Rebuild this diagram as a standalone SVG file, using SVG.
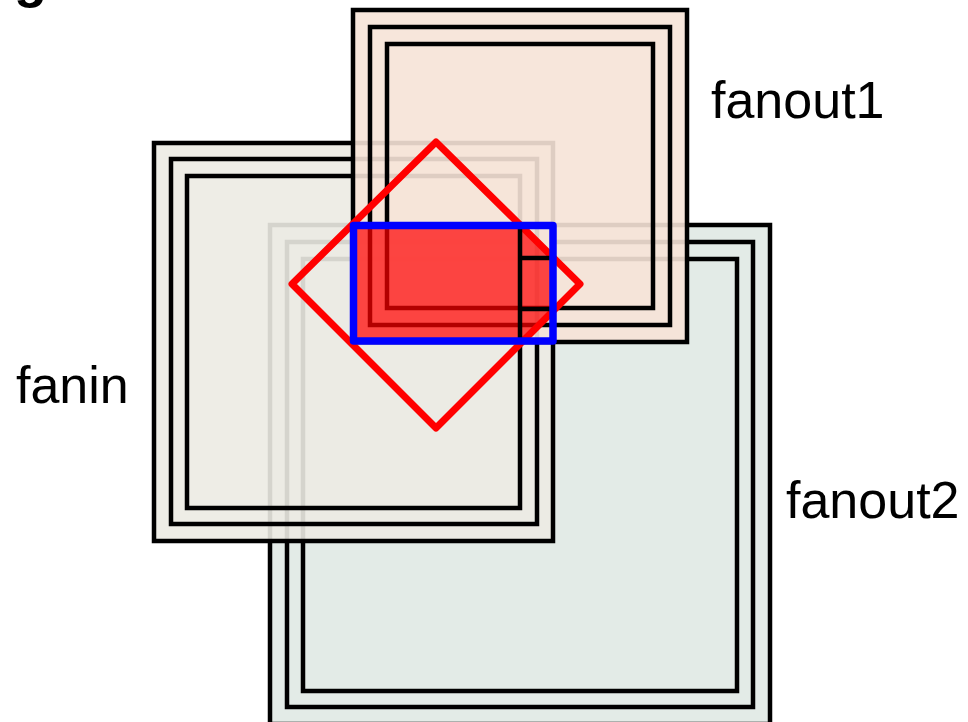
<svg xmlns="http://www.w3.org/2000/svg" width="968" height="722" viewBox="0 0 968 722">
  <style>
    .ln { fill: none; stroke: #000; stroke-width: 4.5; }
    .lbl { font-family: "Liberation Sans", Arial, sans-serif; font-size: 52px; fill: #000; }
  </style>
  <defs>
    <clipPath id="blueclip">
      <rect x="353.5" y="225.5" width="199.5" height="115.5"/>
    </clipPath>
  </defs>
  <rect width="968" height="722" fill="#fff"/>
  <text class="lbl" x="14" y="-3" style="font-weight:bold;font-size:54px">g</text>

  <g id="fanout2">
    <rect x="270" y="225" width="500" height="499" fill="#e3ebe7"/>
    <rect class="ln" x="270" y="225" width="500" height="499"/>
    <rect class="ln" x="287" y="242" width="466" height="465"/>
    <rect class="ln" x="303" y="259" width="434" height="432"/>
  </g>

  <g id="fanin">
    <rect x="154" y="143" width="399" height="398" fill="#ecebe3" fill-opacity="0.9"/>
    <rect class="ln" x="154" y="143" width="399" height="398"/>
    <rect class="ln" x="171" y="159" width="366" height="365"/>
    <rect class="ln" x="187" y="176" width="333" height="332"/>
  </g>

  <g id="fanout1">
    <rect x="353" y="10" width="334" height="332" fill="#f6e3d7" fill-opacity="0.9"/>
    <rect class="ln" x="353" y="10" width="334" height="332"/>
    <rect class="ln" x="370" y="27" width="300" height="298"/>
    <rect class="ln" x="387" y="44" width="266" height="264"/>
  </g>

  <g id="region">
    <polygon points="436,142 580,284 436,428 292,284" fill="#ff0000" fill-opacity="0.7" clip-path="url(#blueclip)"/>
    <polygon points="436,142 580,284 436,428 292,284" fill="none" stroke="#ff0000" stroke-width="7" stroke-linejoin="round"/>
  </g>

  <g id="connectors">
    <line class="ln" x1="520" y1="228" x2="520" y2="338"/>
    <line class="ln" x1="520" y1="258" x2="551" y2="258"/>
    <line class="ln" x1="520" y1="309" x2="551" y2="309"/>
  </g>

  <g id="window">
    <rect x="353.5" y="225.5" width="199.5" height="115.5" fill="none" stroke="#0000ff" stroke-width="7.5" stroke-linejoin="round"/>
  </g>

  <g id="labels">
    <text class="lbl" x="711" y="118">fanout1</text>
    <text class="lbl" x="16" y="403">fanin</text>
    <text class="lbl" x="786" y="518">fanout2</text>
  </g>
</svg>
